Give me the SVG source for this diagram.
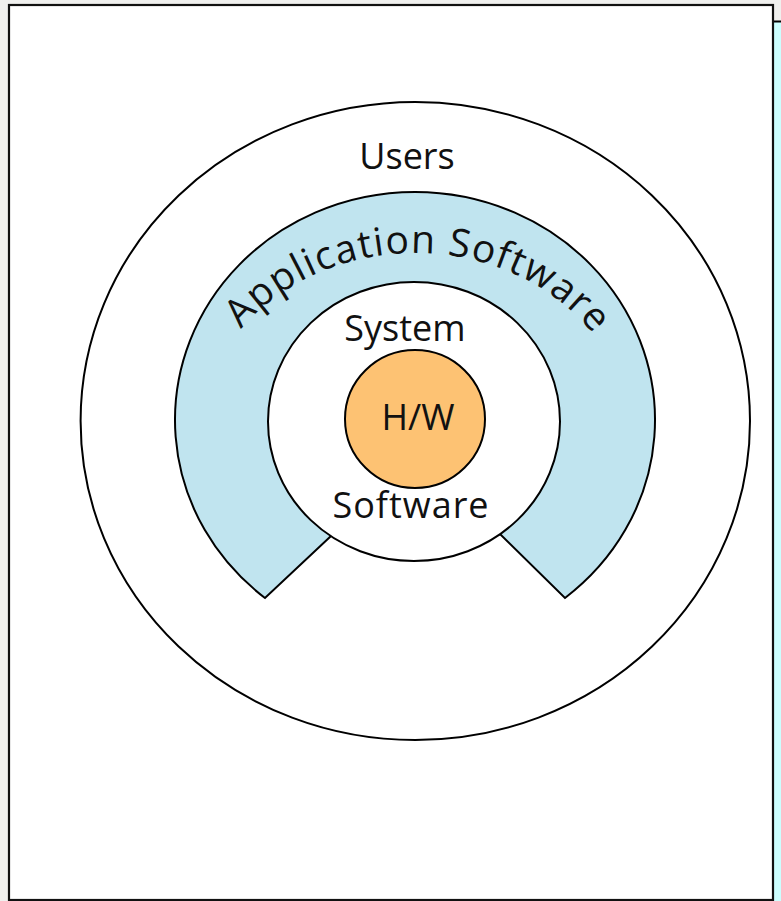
<svg xmlns="http://www.w3.org/2000/svg" width="781" height="901" viewBox="0 0 781 901">
<style>
.ln{stroke:#000;stroke-width:2;}
.lbl{font-family:"Open Sans","DejaVu Sans",sans-serif;font-size:36px;fill:#111;text-anchor:middle;}
.arc{font-size:39px;}
</style>
<defs>
<path id="arcText" d="M 199,440 A 216,187 0 0 1 631,440"/>
</defs>
<rect x="0" y="0" width="781" height="901" fill="#f0f0ee"/>
<rect x="774" y="21" width="7" height="880" fill="#ccffff"/>
<line x1="774" y1="21.5" x2="781" y2="21.5" stroke="#000" stroke-width="2"/>
<rect id="frame" x="9" y="5" width="764" height="895" fill="#fff" stroke="#111" stroke-width="2.2"/>
<g id="users">
<ellipse cx="415.3" cy="421" rx="334.7" ry="319" fill="#fff" class="ln"/>
<text class="lbl" x="407" y="169">Users</text>
</g>
<g id="application-software">
<path d="M331,536 L265,598 A240,228 0 1 1 565,598 L500,534 Z" fill="#c0e4ef" class="ln" stroke-linejoin="miter"/>
<text class="lbl arc"><textPath href="#arcText" startOffset="50.5%" textLength="398" lengthAdjust="spacing">Application Software</textPath></text>
</g>
<g id="system-software">
<ellipse cx="414" cy="421.5" rx="146" ry="139.5" fill="#fff" class="ln"/>
<text class="lbl" x="405" y="341">System</text>
<text class="lbl" x="411" y="518" letter-spacing="1">Software</text>
</g>
<g id="hw">
<ellipse cx="415" cy="419" rx="70" ry="69" fill="#fdc273" class="ln"/>
<text class="lbl" x="418" y="430">H/W</text>
</g>
<g id="connectors"/>
</svg>
